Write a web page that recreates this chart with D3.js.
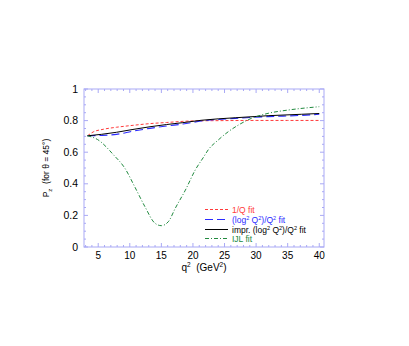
<!DOCTYPE html>
<html>
<head>
<meta charset="utf-8">
<script src="https://cdn.jsdelivr.net/npm/d3@7"></script>
<style>
  body { margin: 0; background: #fff; }
  svg { font-family: "Liberation Sans", Arial, sans-serif; }
</style>
</head>
<body>
<svg id="chart" width="409" height="346"></svg>
<script>
// values (q^2 in GeV^2, P_z)
var q_red = [3.3, 4.2, 5.8, 7.9, 10.5, 13.2, 15.8, 20, 25, 30, 35, 40];
var p_red = [0.704, 0.728, 0.745, 0.758, 0.770, 0.781, 0.788, 0.798, 0.800, 0.801, 0.801, 0.801];

var q_blue = [3.3, 5.5, 7.9, 10.5, 13.2, 15.8, 18.4, 21.3, 26.7, 31.9, 37.2, 40];
var p_blue = [0.704, 0.706, 0.713, 0.733, 0.751, 0.766, 0.778, 0.797, 0.814, 0.825, 0.833, 0.84];

var q_black = [3.3, 5.5, 7.9, 10.5, 13.2, 15.8, 18.4, 21.3, 26.7, 31.9, 37.2, 40];
var p_black = [0.704, 0.713, 0.726, 0.744, 0.761, 0.775, 0.787, 0.802, 0.818, 0.831, 0.840, 0.845];

var q_green = [3.3, 4.9, 7.5, 9.2, 10.8, 12.4, 14.0, 15.0, 16.1, 17.2, 18.8, 20.4, 21.7, 22.4, 24.0, 25.6, 27.2, 29.3, 31.9, 35.1, 40];
var p_green = [0.704, 0.68, 0.58, 0.50, 0.38, 0.255, 0.15, 0.135, 0.16, 0.245, 0.36, 0.49, 0.57, 0.614, 0.677, 0.73, 0.772, 0.815, 0.846, 0.867, 0.888];

var x_ticks = [5, 10, 15, 20, 25, 30, 35, 40];
var y_ticks = [0, 0.2, 0.4, 0.6, 0.8, 1];

var legend_labels = ["1/Q fit", "(log\u00B2 Q\u00B2)/Q\u00B2 fit", "impr. (log\u00B2 Q\u00B2)/Q\u00B2 fit", "IJL fit"];

function drawChart() {
    var svg = d3.select("#chart"),
        x0 = 84, x1 = 324, y0 = 89, y1 = 247;

    var x = d3.scaleLinear().domain([2.75, 40.75]).range([x0, x1]),
        y = d3.scaleLinear().domain([0, 1]).range([y1, y0]);

    var frameColor = "#a9a9f5";

    // frame
    svg.append("rect")
        .attr("x", x0).attr("y", y0)
        .attr("width", x1 - x0).attr("height", y1 - y0)
        .attr("fill", "none").attr("stroke", frameColor).attr("stroke-width", 1);

    // ticks on all four sides, pointing inward
    var xMinor = d3.range(3, 41, 1),
        yMinor = d3.range(0, 1.0001, 0.05);

    xMinor.forEach(function (v) {
        var len = v % 5 === 0 ? 4 : 2;
        svg.append("line").attr("x1", x(v)).attr("x2", x(v)).attr("y1", y1).attr("y2", y1 - len)
            .attr("stroke", frameColor);
        svg.append("line").attr("x1", x(v)).attr("x2", x(v)).attr("y1", y0).attr("y2", y0 + len)
            .attr("stroke", frameColor);
    });
    yMinor.forEach(function (v) {
        var major = Math.abs(v * 5 - Math.round(v * 5)) < 1e-6, len = major ? 4 : 2;
        svg.append("line").attr("x1", x0).attr("x2", x0 + len).attr("y1", y(v)).attr("y2", y(v))
            .attr("stroke", frameColor);
        svg.append("line").attr("x1", x1).attr("x2", x1 - len).attr("y1", y(v)).attr("y2", y(v))
            .attr("stroke", frameColor);
    });

    // tick labels
    svg.selectAll(".xlab").data(x_ticks).enter().append("text")
        .attr("x", d => x(d)).attr("y", y1 + 12)
        .attr("text-anchor", "middle").attr("font-size", 10).text(d => d);
    svg.selectAll(".ylab").data(y_ticks).enter().append("text")
        .attr("x", x0 - 6).attr("y", d => y(d) + 3.5)
        .attr("text-anchor", "end").attr("font-size", 10.5).text(d => d);

    // axis titles
    var xt = svg.append("text").attr("x", 204).attr("y", 271)
        .attr("text-anchor", "middle").attr("font-size", 10);
    xt.append("tspan").text("q");
    xt.append("tspan").attr("dy", -4).attr("font-size", 6.5).text("2");
    xt.append("tspan").attr("dy", 4).text("\u00A0\u00A0(GeV");
    xt.append("tspan").attr("dy", -4).attr("font-size", 6.5).text("2");
    xt.append("tspan").attr("dy", 4).text(")");

    var yt = svg.append("text")
        .attr("transform", "translate(49," + ((y0 + y1) / 2) + ") rotate(-90)")
        .attr("text-anchor", "middle").attr("font-size", 8.5);
    yt.append("tspan").text("P");
    yt.append("tspan").attr("dy", 2.5).attr("font-size", 6).text("z");
    yt.append("tspan").attr("dy", -2.5).text("\u00A0\u00A0(for \u03B8 = 45\u00B0)");

    // curves
    var line = d3.line().x(d => x(d[0])).y(d => y(d[1])).curve(d3.curveMonotoneX);

    function zip(a, b) { return a.map((v, i) => [v, b[i]]); }

    var series = [
        { data: zip(q_red, p_red), color: "#ff3b3b", dash: "3,2", width: 1 },
        { data: zip(q_blue, p_blue), color: "#2b2bff", dash: "8,4", width: 1.1 },
        { data: zip(q_black, p_black), color: "#000000", dash: "none", width: 1 },
        { data: zip(q_green, p_green), color: "#218a3f", dash: "4,2,1,2", width: 1 }
    ];

    series.forEach(function (s) {
        svg.append("path").datum(s.data)
            .attr("d", line)
            .attr("fill", "none")
            .attr("stroke", s.color)
            .attr("stroke-width", s.width)
            .attr("stroke-dasharray", s.dash);
    });

    // legend
    var legY = [209.5, 219.5, 229.5, 238.5];
    series.forEach(function (s, i) {
        svg.append("line")
            .attr("x1", 205).attr("x2", 228)
            .attr("y1", legY[i]).attr("y2", legY[i])
            .attr("stroke", s.color).attr("stroke-width", 1)
            .attr("stroke-dasharray", s.dash);
    });
    legend_labels.forEach(function (t, i) {
        var txt = svg.append("text").attr("x", 232).attr("y", legY[i] + 3)
            .attr("font-size", 8.5).attr("fill", series[i].color);
        if (i === 1 || i === 2) {
            txt.append("tspan").text(i === 2 ? "impr. (log" : "(log");
            txt.append("tspan").attr("dy", -3).attr("font-size", 5.5).text("2");
            txt.append("tspan").attr("dy", 3).text("\u00A0Q");
            txt.append("tspan").attr("dy", -3).attr("font-size", 5.5).text("2");
            txt.append("tspan").attr("dy", 3).text(")/Q");
            txt.append("tspan").attr("dy", -3).attr("font-size", 5.5).text("2");
            txt.append("tspan").attr("dy", 3).text("\u00A0fit");
        } else {
            txt.text(t);
        }
    });
}

drawChart();
</script>
</body>
</html>
